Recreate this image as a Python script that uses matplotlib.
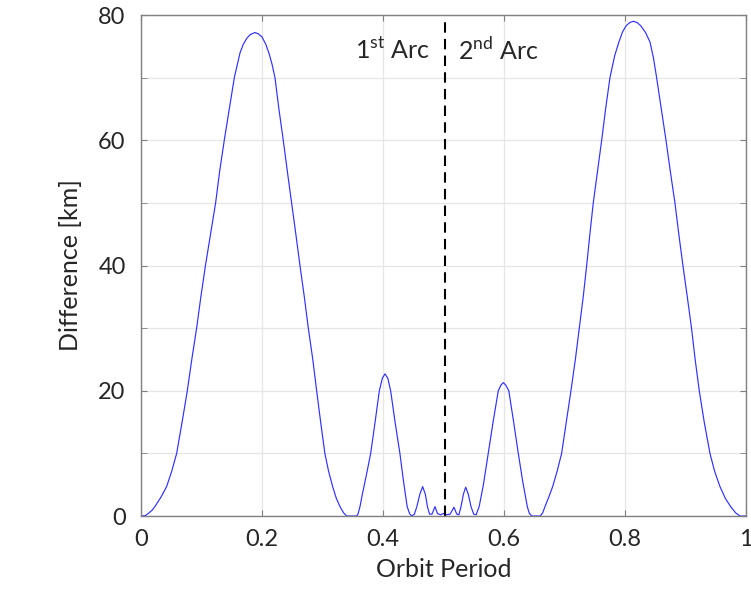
import matplotlib
matplotlib.use("Agg")
import matplotlib.pyplot as plt
from matplotlib.ticker import MultipleLocator

plt.rcParams['font.family'] = ['Lato', 'DejaVu Sans']
plt.rcParams['mathtext.fontset'] = 'custom'
plt.rcParams['mathtext.rm'] = 'Lato'

# values
orbit_period = [0.000, 0.007, 0.012, 0.018, 0.023, 0.033, 0.0424, 0.051, 0.059,
                0.068, 0.0766, 0.084, 0.092, 0.099, 0.1066, 0.115, 0.1234, 0.130,
                0.1377, 0.146, 0.1543, 0.1636, 0.169, 0.175, 0.181, 0.1884, 0.194,
                0.200, 0.206, 0.2116, 0.2165, 0.2215, 0.228, 0.2352, 0.242, 0.249,
                0.256, 0.2628, 0.270, 0.2766, 0.284, 0.2904, 0.297, 0.304, 0.310,
                0.3168, 0.323, 0.329, 0.335, 0.340, 0.357, 0.359, 0.362, 0.366,
                0.3725, 0.3797, 0.387, 0.394, 0.399, 0.4033, 0.408, 0.4127, 0.420,
                0.428, 0.434, 0.440, 0.444, 0.4474, 0.452, 0.456, 0.461, 0.4656,
                0.470, 0.4735, 0.477, 0.481, 0.486, 0.490, 0.495, 0.500, 0.505,
                0.511, 0.5174, 0.522, 0.5255, 0.529, 0.533, 0.5367, 0.541, 0.5455,
                0.550, 0.554, 0.559, 0.566, 0.574, 0.582, 0.5906, 0.595, 0.599,
                0.603, 0.608, 0.616, 0.6237, 0.631, 0.6386, 0.642, 0.646, 0.660,
                0.664, 0.6678, 0.674, 0.6805, 0.688, 0.6953, 0.703, 0.7107, 0.718,
                0.7245, 0.731, 0.7367, 0.742, 0.7476, 0.7545, 0.7615, 0.768, 0.7752,
                0.783, 0.790, 0.796, 0.802, 0.808, 0.8138, 0.820, 0.826, 0.834,
                0.8413, 0.847, 0.8523, 0.860, 0.8678, 0.875, 0.8826, 0.889, 0.8958,
                0.903, 0.910, 0.916, 0.9228, 0.931, 0.9405, 0.948, 0.957, 0.966,
                0.9747, 0.983, 0.990, 1.000]
difference = [0.0, 0.05, 0.4, 0.9, 1.5, 3.0, 4.7, 7.2, 10,
              15, 20, 25, 30, 35, 40, 45, 50, 55,
              60, 65, 70, 73.9, 75.3, 76.3, 76.9, 77.2, 77.0,
              76.5, 75.4, 73.9, 72.2, 70, 65, 60, 55, 50,
              45, 40, 35, 30, 25, 20, 15, 10, 7.2,
              4.7, 2.8, 1.5, 0.5, 0.0, 0.0, 0.4, 1.5, 3.5,
              6.5, 10, 15, 20, 22.0, 22.7, 22.0, 20, 15,
              10, 5.5, 1.5, 0.4, 0.0, 0.3, 1.5, 3.5, 4.7,
              3.5, 1.5, 0.3, 0.3, 1.5, 0.4, 0.2, 0.4, 0.2,
              0.3, 1.4, 0.3, 0.2, 1.5, 3.5, 4.6, 3.5, 1.5,
              0.3, 0.2, 1.5, 5.0, 10, 15, 20, 20.9, 21.3,
              20.9, 20, 15, 10, 5.5, 1.5, 0.4, 0.0, 0.0,
              0.5, 1.5, 3.0, 4.7, 7.2, 10, 15, 20, 25,
              30, 35, 40, 45, 50, 55, 60, 65, 70,
              73.5, 75.7, 77.3, 78.3, 78.8, 79.0, 78.8, 78.3, 77.2,
              75.7, 73.2, 70, 65, 60, 55, 50, 45, 40,
              35, 30, 25, 20, 15, 10, 7.2, 4.7, 2.8,
              1.5, 0.5, 0.0, 0.0]
arc_split = 0.503
x_ticks = [0, 0.2, 0.4, 0.6, 0.8, 1]
x_tick_labels = ['0', '0.2', '0.4', '0.6', '0.8', '1']
y_ticks = [0, 20, 40, 60, 80]

fig = plt.figure(figsize=(7.51, 5.98), dpi=100)
ax = fig.add_axes([0.1877, 0.1371, 0.8056, 0.8378])

ax.plot(orbit_period, difference, color='#3030ff', lw=0.85)
ax.axvline(arc_split, color='black', lw=1.5, ls=(0, (5, 3)))

ax.set_xlim(0, 1)
ax.set_ylim(0, 80)
ax.set_xticks(x_ticks, x_tick_labels)
ax.set_yticks(y_ticks)
ax.yaxis.set_minor_locator(MultipleLocator(10))
ax.grid(True, which='both', color='#e6e6e6', lw=0.9)
ax.set_axisbelow(True)

ax.tick_params(which='both', direction='in', top=True, right=True,
               length=4, color='#808080', labelsize=17, labelcolor='#262626')
ax.tick_params(axis='x', pad=9)
ax.tick_params(axis='y', pad=11)
for s in ax.spines.values():
    s.set_color('#808080')
    s.set_linewidth(1.0)

ax.set_xlabel('Orbit Period', fontsize=18, color='#262626', labelpad=6)
ax.set_ylabel('Difference [km]', fontsize=18, color='#262626', labelpad=12)

ax.text(0.478, 74.4, '1$^{\\mathrm{st}}$ Arc', ha='right', va='center',
        fontsize=18, color='#262626')
ax.text(0.524, 74.4, '2$^{\\mathrm{nd}}$ Arc', ha='left', va='center',
        fontsize=18, color='#262626')

fig.savefig('out.png', dpi=100)
